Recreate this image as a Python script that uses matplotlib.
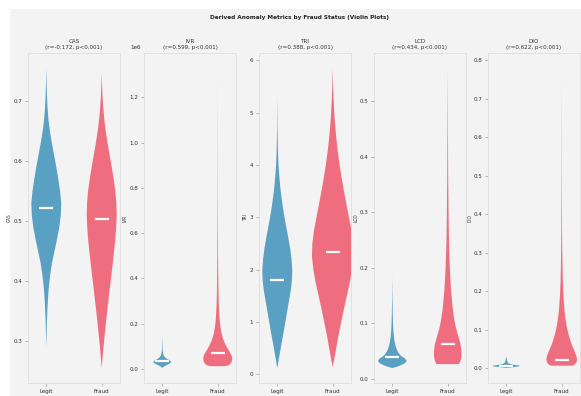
import matplotlib
matplotlib.use("Agg")
import matplotlib.pyplot as plt
from matplotlib.patches import Rectangle

plt.rcParams["font.family"] = ["DejaVu Sans"]
plt.rcParams["font.stretch"] = "condensed"

METRICS = ["CAS", "IVR", "TRI", "LCD", "DIO"]
R_VALUES = [-0.172, 0.599, 0.388, 0.434, 0.622]
GROUPS = ["Legit", "Fraud"]

LEGIT_MEDIAN = [0.522, 35_000, 1.80, 0.038, 0.005]
FRAUD_MEDIAN = [0.503, 72_000, 2.33, 0.062, 0.022]

# density profiles: value knots and relative density at each knot
CAS_LEGIT_Y = [0.29, 0.31, 0.33, 0.35, 0.37, 0.39, 0.41, 0.43, 0.45, 0.47, 0.49, 0.51,
               0.53, 0.55, 0.57, 0.59, 0.61, 0.63, 0.65, 0.67, 0.69, 0.71, 0.73, 0.755]
CAS_LEGIT_D = [0.0, 0.02, 0.04, 0.07, 0.11, 0.17, 0.26, 0.38, 0.55, 0.72, 0.87, 0.97,
               1.0, 0.92, 0.8, 0.67, 0.52, 0.37, 0.24, 0.14, 0.08, 0.045, 0.02, 0.0]
CAS_FRAUD_Y = [0.255, 0.27, 0.29, 0.31, 0.33, 0.35, 0.37, 0.39, 0.41, 0.43, 0.45, 0.47, 0.49,
               0.51, 0.53, 0.55, 0.57, 0.59, 0.61, 0.63, 0.65, 0.67, 0.69, 0.71, 0.745]
CAS_FRAUD_D = [0.0, 0.05, 0.12, 0.2, 0.28, 0.37, 0.46, 0.55, 0.65, 0.74, 0.83, 0.91, 0.97,
               1.0, 0.98, 0.91, 0.8, 0.67, 0.53, 0.39, 0.27, 0.17, 0.1, 0.05, 0.0]

IVR_LEGIT_Y = [4_000, 8_000, 12_000, 16_000, 20_000, 24_000, 28_000, 32_000, 36_000, 40_000,
               45_000, 50_000, 55_000, 60_000, 70_000, 80_000, 95_000, 110_000, 130_000, 150_000]
IVR_LEGIT_D = [0.0, 0.1, 0.25, 0.45, 0.65, 0.85, 0.97, 1.0, 0.9, 0.72,
               0.5, 0.33, 0.22, 0.15, 0.08, 0.05, 0.03, 0.018, 0.008, 0.0]
IVR_FRAUD_Y = [12_000, 15_000, 20_000, 30_000, 40_000, 50_000, 60_000, 70_000, 85_000,
               100_000, 120_000, 140_000, 160_000, 185_000, 215_000, 250_000, 300_000,
               360_000, 430_000, 520_000, 620_000, 750_000, 900_000, 1_100_000, 1_330_000]
IVR_FRAUD_D = [0.5, 0.7, 0.85, 0.96, 1.0, 1.0, 0.96, 0.88, 0.74,
               0.6, 0.45, 0.34, 0.26, 0.19, 0.14, 0.1, 0.07,
               0.05, 0.035, 0.024, 0.016, 0.01, 0.006, 0.003, 0.0]

TRI_LEGIT_Y = [0.12, 0.25, 0.4, 0.6, 0.8, 1.0, 1.2, 1.4, 1.6, 1.8, 2.0, 2.2,
               2.4, 2.6, 2.8, 3.0, 3.2, 3.4, 3.6, 3.8, 4.0, 4.3, 4.7, 5.3]
TRI_LEGIT_D = [0.0, 0.08, 0.17, 0.29, 0.42, 0.54, 0.66, 0.78, 0.9, 0.98, 1.0, 0.95,
               0.86, 0.74, 0.61, 0.48, 0.37, 0.27, 0.19, 0.13, 0.08, 0.04, 0.015, 0.0]
TRI_FRAUD_Y = [0.14, 0.3, 0.5, 0.75, 1.0, 1.25, 1.5, 1.75, 2.0, 2.25, 2.5, 2.75,
               3.0, 3.25, 3.5, 3.75, 4.0, 4.3, 4.6, 4.9, 5.2, 5.5, 5.85]
TRI_FRAUD_D = [0.0, 0.08, 0.17, 0.28, 0.41, 0.54, 0.68, 0.82, 0.93, 1.0, 0.98, 0.9,
               0.78, 0.66, 0.54, 0.43, 0.33, 0.23, 0.15, 0.09, 0.05, 0.02, 0.0]

LCD_LEGIT_Y = [0.019, 0.021, 0.024, 0.027, 0.030, 0.033, 0.036, 0.039, 0.042, 0.046,
               0.05, 0.055, 0.06, 0.067, 0.075, 0.085, 0.1, 0.12, 0.15, 0.185]
LCD_LEGIT_D = [0.0, 0.3, 0.6, 0.85, 0.98, 1.0, 0.9, 0.72, 0.57, 0.45,
               0.36, 0.28, 0.22, 0.16, 0.12, 0.08, 0.05, 0.03, 0.012, 0.0]
LCD_FRAUD_Y = [0.026, 0.03, 0.035, 0.04, 0.045, 0.05, 0.056, 0.062, 0.07, 0.08, 0.09, 0.1,
               0.11, 0.125, 0.14, 0.16, 0.185, 0.215, 0.25, 0.3, 0.36, 0.43, 0.5, 0.56]
LCD_FRAUD_D = [0.8, 0.9, 0.96, 0.99, 1.0, 0.99, 0.96, 0.92, 0.84, 0.72, 0.61, 0.52,
               0.45, 0.37, 0.31, 0.24, 0.18, 0.13, 0.09, 0.06, 0.035, 0.02, 0.01, 0.0]

DIO_LEGIT_Y = [0.0, 0.002, 0.004, 0.006, 0.008, 0.010, 0.012, 0.015, 0.019, 0.024, 0.03]
DIO_LEGIT_D = [0.0, 0.45, 0.9, 1.0, 0.6, 0.3, 0.17, 0.1, 0.06, 0.03, 0.0]
DIO_FRAUD_Y = [0.006, 0.01, 0.015, 0.02, 0.025, 0.03, 0.037, 0.045, 0.055, 0.065, 0.08, 0.095,
               0.11, 0.13, 0.155, 0.185, 0.22, 0.26, 0.31, 0.37, 0.45, 0.55, 0.65, 0.78]
DIO_FRAUD_D = [0.72, 0.88, 0.97, 1.0, 1.0, 0.97, 0.91, 0.83, 0.72, 0.62, 0.5, 0.4,
               0.32, 0.24, 0.17, 0.12, 0.08, 0.055, 0.035, 0.022, 0.013, 0.007, 0.003, 0.0]

LEGIT_PROFILES = [(CAS_LEGIT_Y, CAS_LEGIT_D), (IVR_LEGIT_Y, IVR_LEGIT_D), (TRI_LEGIT_Y, TRI_LEGIT_D),
                  (LCD_LEGIT_Y, LCD_LEGIT_D), (DIO_LEGIT_Y, DIO_LEGIT_D)]
FRAUD_PROFILES = [(CAS_FRAUD_Y, CAS_FRAUD_D), (IVR_FRAUD_Y, IVR_FRAUD_D), (TRI_FRAUD_Y, TRI_FRAUD_D),
                  (LCD_FRAUD_Y, LCD_FRAUD_D), (DIO_FRAUD_Y, DIO_FRAUD_D)]

# violin body widths (x units) per panel
LEGIT_WIDTH = [0.54, 0.32, 0.54, 0.51, 0.50]
FRAUD_WIDTH = [0.54, 0.52, 0.75, 0.50, 0.55]

COLORS = ["#5aa0c2", "#ee6e7f"]
BG = "#f3f3f3"
EDGE = "#dedede"
TEXT = "#333333"

W, H = 581, 396
PANEL_LEFT = [28, 144, 259, 374, 488]
PANEL_W = 92
PANEL_TOP, PANEL_BOTTOM = 53, 383


def stats(profile, median):
    ys, ds = profile
    return dict(coords=ys, vals=ds, mean=median, median=median,
                min=min(ys), max=max(ys))


fig = plt.figure(figsize=(W / 100, H / 100), dpi=100, facecolor="white")
fig.add_artist(Rectangle((10 / W, 0), 1, (H - 9) / H, transform=fig.transFigure,
                         facecolor=BG, edgecolor="none", zorder=-5))

for i, metric in enumerate(METRICS):
    ax = fig.add_axes([PANEL_LEFT[i] / W, 1 - PANEL_BOTTOM / H,
                       PANEL_W / W, (PANEL_BOTTOM - PANEL_TOP) / H])
    ax.set_facecolor(BG)
    for s in ax.spines.values():
        s.set_color(EDGE)
        s.set_linewidth(0.6)

    groups = [
        (LEGIT_PROFILES[i], LEGIT_MEDIAN[i], LEGIT_WIDTH[i], COLORS[0]),
        (FRAUD_PROFILES[i], FRAUD_MEDIAN[i], FRAUD_WIDTH[i], COLORS[1]),
    ]
    for pos, (profile, med, width, color) in enumerate(groups):
        parts = ax.violin([stats(profile, med)], positions=[pos], widths=width,
                          showmeans=False, showextrema=False, showmedians=False)
        for body in parts["bodies"]:
            body.set_facecolor(color)
            body.set_edgecolor("none")
            body.set_alpha(1)
        ax.hlines(med, pos - 0.13, pos + 0.13, colors="white", linewidth=1.6, zorder=3)

    ax.margins(y=0.05)
    ax.set_xlim(-0.33, 1.33)
    ax.set_xticks([0, 1])
    ax.set_xticklabels(GROUPS)
    ax.tick_params(labelsize=4.5, length=2, width=0.5, color="#9a9a9a",
                   labelcolor=TEXT, pad=2)
    offset = ax.yaxis.get_offset_text()
    offset.set_fontsize(4.5)
    offset.set_x(-0.15)
    ax.set_ylabel(metric, fontsize=3.5, labelpad=1, color=TEXT)
    ax.set_title(f"{metric}\n(r={R_VALUES[i]:.3f}, p<0.001)", fontsize=4.5,
                 pad=3, linespacing=1.3, color=TEXT)

fig.text(300 / W, 1 - 18 / H, "Derived Anomaly Metrics by Fraud Status (Violin Plots)",
         ha="center", va="center", fontsize=4.6, fontweight="bold", color="#222222")

fig.savefig("out.png", dpi=100, facecolor="white")
